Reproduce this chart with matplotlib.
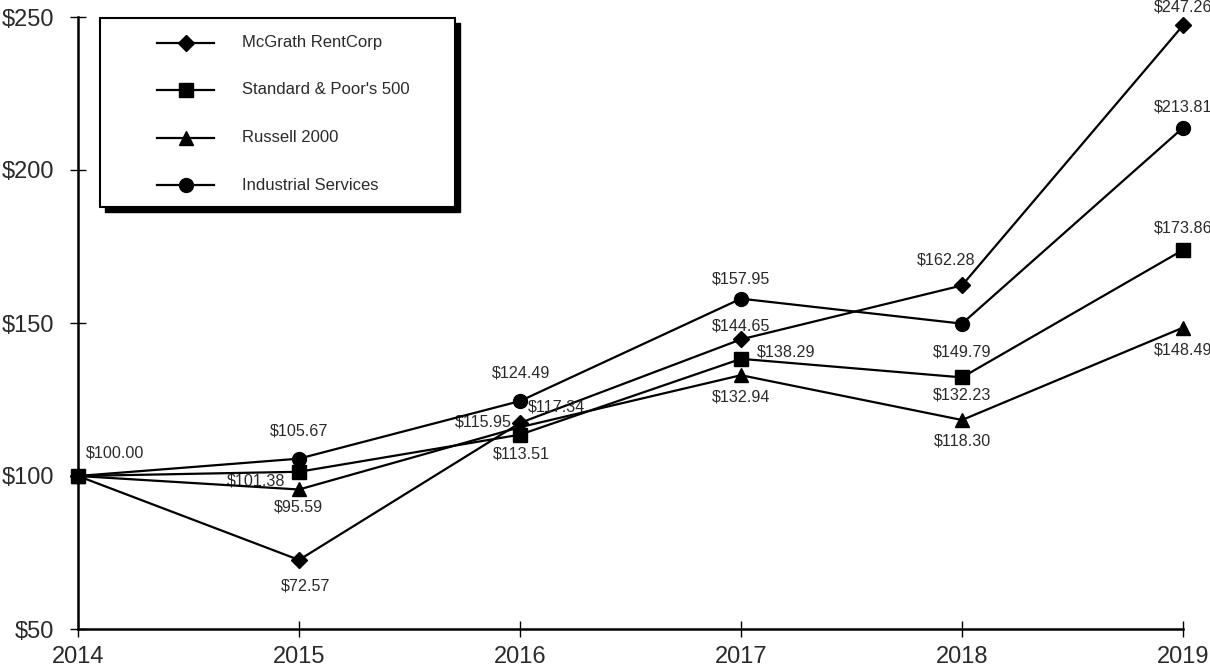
import matplotlib.pyplot as plt
import numpy as np
from matplotlib.patches import Rectangle
from matplotlib.lines import Line2D

plt.rcParams['font.family'] = ['Liberation Sans', 'DejaVu Sans']

# ----------------------------
# Data
# ----------------------------
years = [2014, 2015, 2016, 2017, 2018, 2019]
series_names = ['McGrath RentCorp', "Standard & Poor's 500", 'Russell 2000', 'Industrial Services']
mcgrath = [100.00, 72.57, 117.34, 144.65, 162.28, 247.26]
sp500 = [100.00, 101.38, 113.51, 138.29, 132.23, 173.86]
russell = [100.00, 95.59, 115.95, 132.94, 118.30, 148.49]
industrial = [100.00, 105.67, 124.49, 157.95, 149.79, 213.81]
y_ticks = [50, 100, 150, 200, 250]

# ----------------------------
# Styles
# ----------------------------
markers = ['D', 's', '^', 'o']
msizes = [8, 10, 10, 10]
text_color = '#2a2a2a'

# label offsets in pixels (dx, dy) per series per year; None = no label
label_offsets = [
    [(37, 23), (7, -26), (36, 16), (0, 13), (-16, 25), (0, 18)],
    [None, (-43, -9), (1, -19), (45, 7), (0, -18), (0, 22)],
    [None, (-1, -18), (-37, 5), (0, -22), (0, -21), (0, -22)],
    [None, (0, 28), (1, 28), (0, 20), (0, -28), (0, 21)],
]

fig = plt.figure(figsize=(12.1, 6.68), dpi=100)
ax = fig.add_axes([78 / 1210, 39 / 668, 1105 / 1210, 612 / 668])

all_series = [mcgrath, sp500, russell, industrial]
for vals, m, ms, offs in zip(all_series, markers, msizes, label_offsets):
    ax.plot(years, vals, color='black', lw=1.6, marker=m, markersize=ms,
            clip_on=False, zorder=3)
    for yr, v, off in zip(years, vals, offs):
        if off is None:
            continue
        ax.annotate(f'${v:.2f}', (yr, v), xytext=off, textcoords='offset pixels',
                    ha='center', va='center', fontsize=11.6, color=text_color,
                    annotation_clip=False)

ax.set_xlim(2014, 2019)
ax.set_ylim(50, 250)
ax.set_xticks(years)
ax.set_xticklabels([str(y) for y in years])
ax.set_yticks(y_ticks)
ax.set_yticklabels([f'${t}' for t in y_ticks])
ax.tick_params(axis='both', labelsize=17, colors='black', labelcolor=text_color,
               width=1.0, length=12, direction='inout')
ax.tick_params(axis='x', pad=6)
ax.tick_params(axis='y', pad=11)
for s in ['top', 'right']:
    ax.spines[s].set_visible(False)
for s in ['left', 'bottom']:
    ax.spines[s].set_linewidth(1.8)

# ----------------------------
# Legend box (drawn by hand, with hard shadow)
# ----------------------------
bx0, bx1 = (100 - 78) / 1105, (455 - 78) / 1105
by0, by1 = (629 - 207) / 612, (629 - 18) / 612
sx, sy = 5 / 1105, 5 / 612
ax.add_patch(Rectangle((bx0 + sx, by0 - sy), bx1 - bx0, by1 - by0, transform=ax.transAxes,
                       facecolor='black', edgecolor='black', zorder=5, clip_on=False))
ax.add_patch(Rectangle((bx0, by0), bx1 - bx0, by1 - by0, transform=ax.transAxes,
                       facecolor='white', edgecolor='black', lw=1.5, zorder=6, clip_on=False))

entry_y = [(629 - py) / 612 for py in [43, 90, 138, 185]]
lx0, lx1, mx, tx = (157 - 78) / 1105, (214 - 78) / 1105, (186 - 78) / 1105, (242 - 78) / 1105
for name, m, ms, ey in zip(series_names, markers, msizes, entry_y):
    ax.add_line(Line2D([lx0, lx1], [ey, ey], transform=ax.transAxes, color='black',
                       lw=1.6, zorder=7, clip_on=False))
    ax.add_line(Line2D([mx], [ey], transform=ax.transAxes, color='black', marker=m,
                       markersize=ms, zorder=8, clip_on=False))
    ax.text(tx, ey, name, transform=ax.transAxes, va='center', ha='left',
            fontsize=12, color=text_color, zorder=8)

fig.savefig('out.png', dpi=100)
